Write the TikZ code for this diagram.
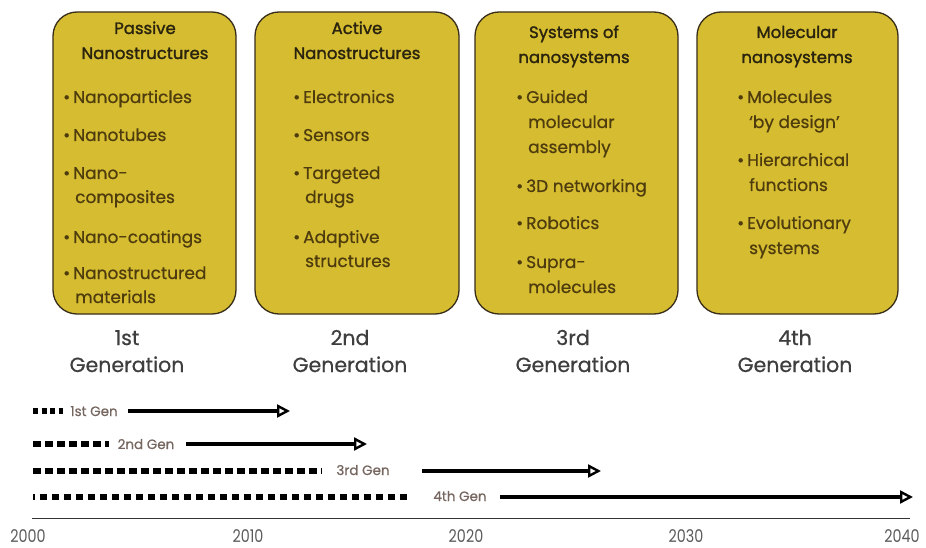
\documentclass[tikz,border=0pt]{standalone}
\usepackage{fontspec}
\setmainfont{Poppins}[FakeBold=0.6]
\newfontfamily\titlefont{Poppins}[FakeBold=1.6]
\newfontfamily\yearfont{Poppins}[FakeStretch=0.82]
\usetikzlibrary{arrows.meta}
\definecolor{boxfill}{RGB}{213,188,48}
\definecolor{boxdraw}{RGB}{55,45,25}
\definecolor{itemtext}{RGB}{78,60,14}
\definecolor{titletext}{RGB}{42,36,14}
\definecolor{gentext}{RGB}{62,62,62}
\definecolor{smalltext}{RGB}{118,102,96}
\definecolor{yeartext}{RGB}{92,92,92}
\tikzset{
  genbox/.style={draw=boxdraw, line width=1.3pt, fill=boxfill, rounded corners=24pt},
  boxtitle/.style={anchor=base, inner sep=0pt, text=titletext, font=\titlefont\fontsize{16.5}{20}\selectfont},
  bul/.style={anchor=base west, inner sep=0pt, text=itemtext, font=\fontsize{17}{20}\selectfont},
  gen/.style={anchor=base, inner sep=0pt, text=gentext, font=\fontsize{20.5}{24}\selectfont},
  genlab/.style={anchor=base, inner sep=0pt, text=smalltext, font=\fontsize{13.5}{16}\selectfont},
  year/.style={anchor=base, inner sep=0pt, text=yeartext, font=\yearfont\fontsize{17.5}{20}\selectfont},
  futline/.style={line width=3.2pt, -{Triangle[open, length=13pt, width=13pt, line width=2.4pt]}},
  pastline/.style={line width=5.5pt},
}
\newcommand{\bt}{\textbullet\hspace{3pt}}
\begin{document}
\begin{tikzpicture}[x=1pt,y=-1pt]
\useasboundingbox[fill=white] (0,0) rectangle (926,548);
% boxes
\draw[genbox] (53,12) rectangle (236,314);
\draw[genbox] (255,12) rectangle (459,314);
\draw[genbox] (475,12) rectangle (678,314);
\draw[genbox] (697,12) rectangle (898,314);
% box 1
\node[boxtitle] (t1a) at (145,34) {Passive};
\node[boxtitle] (t1b) at (145,59) {Nanostructures};
\node[bul] (i1a) at (63,103) {\bt Nanoparticles};
\node[bul] (i1b) at (63,141) {\bt Nanotubes};
\node[bul] (i1c) at (63,179) {\bt Nano-};
\node[bul] (i1d) at (75,203) {composites};
\node[bul] (i1e) at (63,243) {\bt Nano-coatings};
\node[bul] (i1f) at (63,279) {\bt Nanostructured};
\node[bul] (i1g) at (75,303) {materials};
% box 2
\node[boxtitle] (t2a) at (357,34) {Active};
\node[boxtitle] (t2b) at (357,59) {Nanostructures};
\node[bul] (i2a) at (293,103) {\bt Electronics};
\node[bul] (i2b) at (293,141) {\bt Sensors};
\node[bul] (i2c) at (293,179) {\bt Targeted};
\node[bul] (i2d) at (305,203) {drugs};
\node[bul] (i2e) at (293,243) {\bt Adaptive};
\node[bul] (i2f) at (305,267) {structures};
% box 3
\node[boxtitle] (t3a) at (574,38) {Systems of};
\node[boxtitle] (t3b) at (574,63) {nanosystems};
\node[bul] (i3a) at (516,103) {\bt Guided};
\node[bul] (i3b) at (528,128) {molecular};
\node[bul] (i3c) at (528,153) {assembly};
\node[bul] (i3d) at (516,192) {\bt 3D networking};
\node[bul] (i3e) at (516,229) {\bt Robotics};
\node[bul] (i3f) at (516,268) {\bt Supra-};
\node[bul] (i3g) at (528,293) {molecules};
% box 4
\node[boxtitle] (t4a) at (797,38) {Molecular};
\node[boxtitle] (t4b) at (797,63) {nanosystems};
\node[bul] (i4a) at (737,103) {\bt Molecules};
\node[bul] (i4b) at (749,128) {‘by design’};
\node[bul] (i4c) at (737,166) {\bt Hierarchical};
\node[bul] (i4d) at (749,191) {functions};
\node[bul] (i4e) at (737,229) {\bt Evolutionary};
\node[bul] (i4f) at (749,254) {systems};
% generation labels
\node[gen] (g1a) at (127,345) {1st};
\node[gen] (g1b) at (127,372) {Generation};
\node[gen] (g2a) at (350,345) {2nd};
\node[gen] (g2b) at (350,372) {Generation};
\node[gen] (g3a) at (573,345) {3rd};
\node[gen] (g3b) at (573,372) {Generation};
\node[gen] (g4a) at (795,345) {4th};
\node[gen] (g4b) at (795,372) {Generation};
% timeline rows
\node[genlab] (r1) at (94,416) {1st Gen};
\node[genlab] (r2) at (146,449) {2nd Gen};
\node[genlab] (r3) at (363,475) {3rd Gen};
\node[genlab] (r4) at (460,501) {4th Gen};
\coordinate (p1s) at (33,411); \coordinate (p1e) at (63,411);
\coordinate (f1s) at (128,411); \coordinate (f1e) at (290,411);
\coordinate (p2s) at (33,444); \coordinate (p2e) at (109,444);
\coordinate (f2s) at (186,444); \coordinate (f2e) at (367,444);
\coordinate (p3s) at (33,471); \coordinate (p3e) at (322,471);
\coordinate (f3s) at (422,471); \coordinate (f3e) at (601,471);
\coordinate (p4s) at (33,497); \coordinate (p4e) at (411,497);
\coordinate (f4s) at (500,497); \coordinate (f4e) at (913,497);
\draw[pastline, dash pattern=on 5pt off 3.5pt] (p1s) -- (p1e);
\draw[pastline, dash pattern=on 7.5pt off 4.5pt] (p2s) -- (p2e);
\draw[pastline, dash pattern=on 7.5pt off 4.5pt] (p3s) -- (p3e);
\draw[pastline, dash pattern=on 7.5pt off 4.5pt, dash phase=5.5pt] (p4s) -- (p4e);
\draw[futline] (f1s) -- (f1e);
\draw[futline] (f2s) -- (f2e);
\draw[futline] (f3s) -- (f3e);
\draw[futline] (f4s) -- (f4e);
% axis
\coordinate (ax0) at (32,518); \coordinate (ax1) at (910,518);
\draw[line width=1pt, draw=black!80] (ax0) -- (ax1);
\node[year] (y0) at (28,542) {2000};
\node[year] (y1) at (248,542) {2010};
\node[year] (y2) at (466,542) {2020};
\node[year] (y3) at (686,542) {2030};
\node[year] (y4) at (902,542) {2040};
\end{tikzpicture}
\end{document}
